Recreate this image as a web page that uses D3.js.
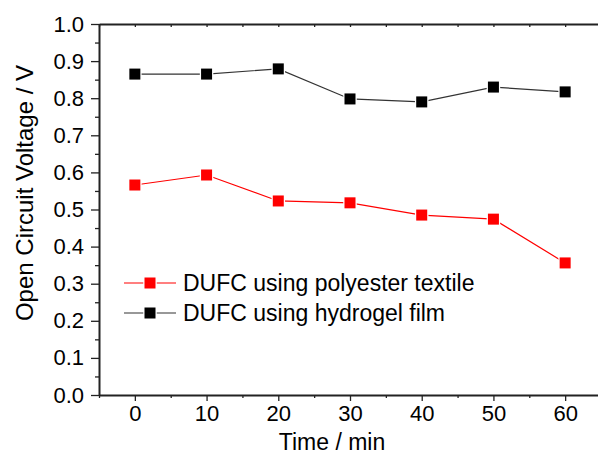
<!DOCTYPE html>
<html><head><meta charset="utf-8">
<script src="https://cdn.jsdelivr.net/npm/d3@7"></script>
<style>body{margin:0;background:#fff}svg{display:block}text{font-family:"Liberation Sans",Arial,sans-serif}</style>
</head><body>
<svg id="c" width="598" height="456"></svg>
<script>
const times = [0, 10, 20, 30, 40, 50, 60];
const polyester = [0.566, 0.593, 0.523, 0.518, 0.485, 0.474, 0.356];
const hydrogel = [0.865, 0.865, 0.879, 0.798, 0.790, 0.830, 0.817];
const seriesNames = ["DUFC using polyester textile", "DUFC using hydrogel film"];
const seriesColors = ["#ff0000", "#000000"];
const lineColors = ["#ff0000", "#333333"];
const xTicks = [0, 10, 20, 30, 40, 50, 60];
const yTicks = [0.0, 0.1, 0.2, 0.3, 0.4, 0.5, 0.6, 0.7, 0.8, 0.9, 1.0];

const svg = d3.select("#c");
const L = 99, T = 24, R = 601, B = 395;
const x = d3.scaleLinear().domain([-5, 65]).range([L, R]);
const y = d3.scaleLinear().domain([0, 1]).range([B, T]);

const g = svg.append("g");
const xMinor = d3.range(-5, 66, 5).filter(v => !xTicks.includes(v));
const yMinor = d3.range(0.05, 1, 0.1);

g.append("g").attr("transform", `translate(0,${B})`)
  .call(d3.axisBottom(x).tickValues(xTicks).tickFormat(d3.format("d")).tickSizeInner(6).tickSizeOuter(0).tickPadding(4));
g.append("g").attr("transform", `translate(0,${B})`)
  .call(d3.axisBottom(x).tickValues(xMinor).tickFormat("").tickSizeInner(3).tickSizeOuter(0))
  .select(".domain").remove();
g.append("g").attr("transform", `translate(${L},0)`)
  .call(d3.axisLeft(y).tickValues(yTicks).tickFormat(d3.format(".1f")).tickSizeInner(8).tickSizeOuter(0).tickPadding(7));
g.append("g").attr("transform", `translate(${L},0)`)
  .call(d3.axisLeft(y).tickValues(yMinor).tickFormat("").tickSizeInner(4).tickSizeOuter(0))
  .select(".domain").remove();
g.append("g").attr("transform", `translate(0,${T})`)
  .call(d3.axisBottom(x).tickValues(d3.range(-5, 66, 5)).tickFormat("").tickSizeInner(3).tickSizeOuter(0));
g.append("g").attr("transform", `translate(${R},0)`)
  .call(d3.axisLeft(y).tickValues(yTicks).tickFormat("").tickSizeInner(3).tickSizeOuter(0));

g.selectAll(".domain").attr("stroke", "#222").attr("stroke-width", 2);
g.selectAll(".tick line").attr("stroke", "#222").attr("stroke-width", 1.3);
g.selectAll(".tick text").attr("font-size", 22).attr("fill", "#000").attr("font-family", "Liberation Sans, Arial, sans-serif");

svg.append("text").attr("x", 332).attr("y", 450).attr("text-anchor", "middle")
  .attr("font-size", 23).text("Time / min");
svg.append("text").attr("transform", "translate(33,193) rotate(-90)").attr("text-anchor", "middle")
  .attr("font-size", 24).text("Open Circuit Voltage / V");

const data = [polyester, hydrogel];
const line = d3.line().x((d, i) => x(times[i])).y(d => y(d));
data.forEach((vals, k) => {
  svg.append("path").datum(vals).attr("d", line).attr("fill", "none")
    .attr("stroke", lineColors[k]).attr("stroke-width", 1.2);
  svg.selectAll(null).data(vals).enter().append("rect")
    .attr("x", (d, i) => x(times[i]) - 5.5).attr("y", d => y(d) - 5.5)
    .attr("width", 11).attr("height", 11)
    .attr("fill", seriesColors[k]).attr("stroke", "#fff").attr("stroke-width", 2.5)
    .attr("paint-order", "stroke");
});

const legY = [283, 313];
seriesNames.forEach((name, k) => {
  const lg = svg.append("g");
  lg.append("line").attr("x1", 124).attr("x2", 176).attr("y1", legY[k]).attr("y2", legY[k])
    .attr("stroke", lineColors[k]).attr("stroke-width", 1.2);
  lg.append("rect").attr("x", 144.5).attr("y", legY[k] - 5.5).attr("width", 11).attr("height", 11)
    .attr("fill", seriesColors[k]).attr("stroke", "#fff").attr("stroke-width", 2.5).attr("paint-order", "stroke");
  lg.append("text").attr("x", 183).attr("y", legY[k] + 8).attr("font-size", 23).text(name);
});
</script>
</body></html>
